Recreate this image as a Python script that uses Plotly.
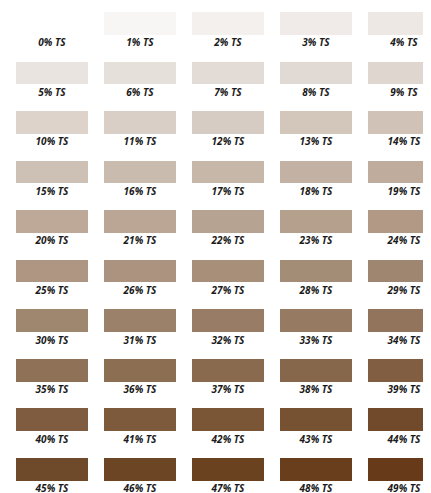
import plotly.graph_objects as go

# TS percentages (one swatch each)
ts_values = [0, 1, 2, 3, 4, 5, 6, 7, 8, 9,
             10, 11, 12, 13, 14, 15, 16, 17, 18, 19,
             20, 21, 22, 23, 24, 25, 26, 27, 28, 29,
             30, 31, 32, 33, 34, 35, 36, 37, 38, 39,
             40, 41, 42, 43, 44, 45, 46, 47, 48, 49]

# swatch colours
swatch_colors = [
    "#ffffff", "#f8f6f4", "#f4f0ed", "#f0ebe8", "#eee8e5",
    "#e9e4df", "#e6e0db", "#e3dbd5", "#e1d9d3", "#dfd6d0",
    "#ddd3cb", "#dacfc7", "#d7ccc3", "#d3c6bb", "#d0c2b7",
    "#cdc0b5", "#c9bbae", "#c7b7a9", "#c3b2a4", "#c0ac9d",
    "#bea999", "#bba696", "#b7a391", "#b4a08c", "#b29986",
    "#af9682", "#ab937f", "#a78f7a", "#a48d77", "#9f8670",
    "#9f866f", "#9c816a", "#997c65", "#977a62", "#92745c",
    "#8f7157", "#8c6e53", "#896a4f", "#86674b", "#815e42",
    "#7f5c3f", "#7c5a3b", "#7a5536", "#775232", "#714a2b",
    "#6f4a2a", "#6c4525", "#6a4220", "#683e1c", "#673b19",
]

labels = [f"{v}% TS" for v in ts_values]

n_cols = 5
cols = [v % n_cols for v in ts_values]
rows = [v // n_cols for v in ts_values]

W, H = 423, 485          # page adds an 8px body margin
col_pitch, col_c0 = 88, 44
row_pitch, row_top0 = 49.55, 4
swatch_h = 22.7 / row_pitch
label_off = 31.7 / row_pitch

fig = go.Figure()
fig.add_trace(go.Bar(
    x=cols,
    y=[swatch_h] * len(ts_values),
    base=rows,
    width=72 / col_pitch,
    marker=dict(color=swatch_colors, line=dict(width=0)),
    hoverinfo="skip",
    showlegend=False,
))
fig.add_trace(go.Scatter(
    x=cols,
    y=[r + label_off for r in rows],
    mode="text",
    text=labels,
    textposition="middle center",
    textfont=dict(family="Open Sans", size=10, color="#1a1a1a",
                  weight="bold", style="italic"),
    hoverinfo="skip",
    showlegend=False,
    cliponaxis=False,
))

fig.update_layout(
    width=W, height=H,
    margin=dict(l=0, r=0, t=0, b=0),
    paper_bgcolor="white", plot_bgcolor="white",
    xaxis=dict(range=[-col_c0 / col_pitch, (W - col_c0) / col_pitch],
               visible=False, fixedrange=True),
    yaxis=dict(range=[(H - row_top0) / row_pitch, -row_top0 / row_pitch],
               visible=False, fixedrange=True),
    bargap=0,
)

fig.write_html("out.html")
